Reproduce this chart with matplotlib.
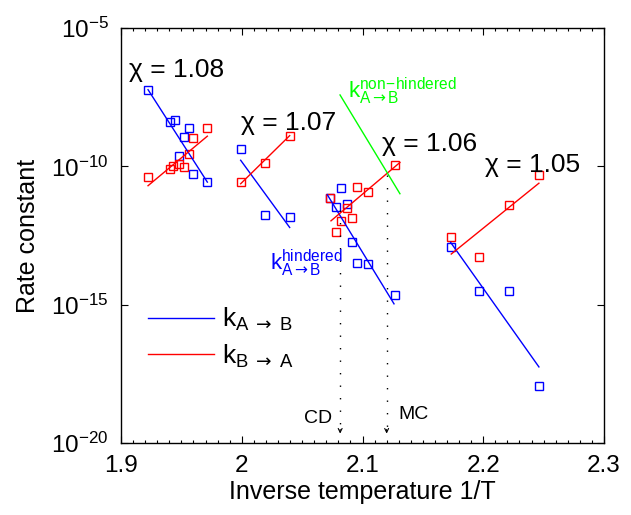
import numpy as np
import matplotlib
matplotlib.use("Agg")
import matplotlib.pyplot as plt

plt.rcParams['font.family'] = ['Liberation Sans', 'DejaVu Sans']
plt.rcParams['mathtext.fontset'] = 'custom'
plt.rcParams['mathtext.rm'] = 'Liberation Sans'
plt.rcParams['mathtext.it'] = 'Liberation Sans:italic'
plt.rcParams['mathtext.bf'] = 'Liberation Sans:bold'
plt.rcParams['mathtext.sf'] = 'DejaVu Sans'

# ---- data (x = inverse temperature, y = log10 of rate constant) ----
# chi = 1.08
g1_ab_x = [1.9224, 1.9406, 1.9450, 1.9563, 1.9522, 1.9483, 1.9599, 1.9715]
g1_ab_y = [-7.23, -8.38, -8.32, -8.60, -8.95, -9.61, -10.28, -10.57]
g1_ba_x = [1.9224, 1.9406, 1.9433, 1.9483, 1.9522, 1.9560, 1.9599, 1.9715]
g1_ba_y = [-10.38, -10.08, -10.00, -9.93, -10.04, -9.56, -8.98, -8.61]
g1_fit_ab_x = [1.9224, 1.9715]
g1_fit_ab_y = [-7.23, -10.57]
g1_fit_ba_x = [1.9224, 1.9715]
g1_fit_ba_y = [-10.70, -8.91]

# chi = 1.07
g2_ab_x = [1.9991, 2.0190, 2.0397]
g2_ab_y = [-9.36, -11.76, -11.83]
g2_ba_x = [1.9991, 2.0190, 2.0397]
g2_ba_y = [-10.56, -9.88, -8.89]
g2_fit_ab_x = [1.9991, 2.0397]
g2_fit_ab_y = [-9.78, -12.21]
g2_fit_ba_x = [1.9991, 2.0397]
g2_fit_ba_y = [-10.63, -8.89]

# chi = 1.06
g3_ab_x = [2.0822, 2.0731, 2.0780, 2.0869, 2.0913, 2.0952, 2.1046, 2.1267]
g3_ab_y = [-10.79, -11.14, -11.47, -11.36, -12.73, -13.49, -13.52, -14.66]
g3_ba_x = [2.0731, 2.0954, 2.1043, 2.0869, 2.0913, 2.0825, 2.0778, 2.1267]
g3_ba_y = [-11.16, -10.75, -10.91, -11.49, -11.86, -11.99, -12.39, -9.96]
g3_fit_ab_x = [2.0709, 2.1261]
g3_fit_ab_y = [-11.03, -14.97]
g3_fit_ba_x = [2.0739, 2.1310]
g3_fit_ba_y = [-11.97, -9.86]
nonhind_x = [2.0814, 2.1310]
nonhind_y = [-7.42, -10.99]

# chi = 1.05
g4_ab_x = [2.1730, 2.1967, 2.2210, 2.2462]
g4_ab_y = [-12.91, -14.52, -14.49, -17.94]
g4_ba_x = [2.1730, 2.1967, 2.2210, 2.2464]
g4_ba_y = [-12.57, -13.26, -11.38, -10.33]
g4_fit_ab_x = [2.1730, 2.2461]
g4_fit_ab_y = [-12.75, -17.25]
g4_fit_ba_x = [2.1735, 2.2461]
g4_fit_ba_y = [-13.17, -10.61]

# vertical markers: x, top (log10), bottom (log10)
cd_x, cd_top, cd_bot = 2.0815, -11.57, -19.66
mc_x, mc_top, mc_bot = 2.1200, -10.30, -19.66

chi_labels = ['χ = 1.08', 'χ = 1.07', 'χ = 1.06', 'χ = 1.05']
chi_pos = [(1.9066, -6.77), (1.9991, -8.68), (2.1159, -9.43), (2.2015, -10.19)]

BLUE = (0, 0, 1)
RED = (1, 0, 0)
GREEN = (0, 1, 0)

fig = plt.figure(figsize=(6.31, 5.15), dpi=100)
ax = fig.add_axes([121/631, 1-443/515, 483/631, 415/515])

def p(y):
    return 10.0 ** np.asarray(y)

mk = dict(marker='s', linestyle='none', markersize=6.2, markerfacecolor='none', markeredgewidth=1.0)
groups = [
    (g1_ab_x, g1_ab_y, g1_ba_x, g1_ba_y, g1_fit_ab_x, g1_fit_ab_y, g1_fit_ba_x, g1_fit_ba_y),
    (g2_ab_x, g2_ab_y, g2_ba_x, g2_ba_y, g2_fit_ab_x, g2_fit_ab_y, g2_fit_ba_x, g2_fit_ba_y),
    (g3_ab_x, g3_ab_y, g3_ba_x, g3_ba_y, g3_fit_ab_x, g3_fit_ab_y, g3_fit_ba_x, g3_fit_ba_y),
    (g4_ab_x, g4_ab_y, g4_ba_x, g4_ba_y, g4_fit_ab_x, g4_fit_ab_y, g4_fit_ba_x, g4_fit_ba_y),
]
h_ab = h_ba = None
for (ax_, ay_, bx_, by_, fax, fay, fbx, fby) in groups:
    ax.plot(ax_, p(ay_), color=BLUE, markeredgecolor=BLUE, **mk)
    ax.plot(bx_, p(by_), color=RED, markeredgecolor=RED, **mk)
    h_ab, = ax.plot(fax, p(fay), color=BLUE, lw=1.0)
    h_ba, = ax.plot(fbx, p(fby), color=RED, lw=1.0)

ax.plot(nonhind_x, p(nonhind_y), color=GREEN, lw=1.0)

for x, top, bot in [(cd_x, cd_top, cd_bot), (mc_x, mc_top, mc_bot)]:
    ax.plot([x, x], p([top, bot]), color='black', lw=1.0, linestyle=(0, (1, 8)))
    ax.annotate('', xy=(x, p(bot)), xytext=(x, p(bot + 0.15)),
                arrowprops=dict(arrowstyle='->', color='black', lw=0.8,
                                mutation_scale=7, shrinkA=0, shrinkB=0))

for lab, (x, y) in zip(chi_labels, chi_pos):
    ax.text(x, p(y), lab, fontsize=19, ha='left', va='baseline')

ax.text(2.0882, p(-7.54), r'$\mathrm{k^{non\!-\!hindered}_{A\mathsf{\rightarrow} B}}$',
        color=GREEN, fontsize=16, ha='left', va='baseline')
ax.text(2.0234, p(-13.74), r'$\mathrm{k^{hindered}_{A\mathsf{\rightarrow} B}}$',
        color=BLUE, fontsize=16, ha='left', va='baseline')
ax.text(2.0745, p(-19.26), 'CD', fontsize=14, ha='right', va='baseline')
ax.text(2.1297, p(-19.15), 'MC', fontsize=14, ha='left', va='baseline')

leg = ax.legend([h_ab, h_ba],
                [r'$\mathrm{k_{A\ \mathsf{\rightarrow}\ B}}$', r'$\mathrm{k_{B\ \mathsf{\rightarrow}\ A}}$'],
                loc='upper left', bbox_to_anchor=(0.035, 0.355), frameon=False,
                fontsize=19, handlelength=2.5, handletextpad=0.3, labelspacing=0.35,
                borderaxespad=0)

ax.set_yscale('log')
ax.set_xlim(1.9, 2.3)
ax.set_ylim(1e-20, 1e-5)
ax.set_xticks([1.9, 2.0, 2.1, 2.2, 2.3])
ax.set_xticklabels(['1.9', '2', '2.1', '2.2', '2.3'])
ax.set_xticks(np.arange(1.9, 2.3001, 0.01), minor=True)
ax.set_yticks([1e-20, 1e-15, 1e-10, 1e-5])
ax.yaxis.set_minor_locator(matplotlib.ticker.NullLocator())
ax.tick_params(which='both', direction='in', top=True, right=True, width=0.8)
ax.tick_params(which='major', length=5, labelsize=17.5)
ax.tick_params(axis='x', which='major', pad=9)
ax.tick_params(axis='y', which='major', pad=9)
ax.tick_params(which='minor', length=2.5)
for s in ax.spines.values():
    s.set_linewidth(1.0)

ax.set_xlabel('Inverse temperature 1/T', fontsize=18, labelpad=2)
ax.set_ylabel('Rate constant', fontsize=18, labelpad=8)

fig.savefig('out.png', dpi=100)
